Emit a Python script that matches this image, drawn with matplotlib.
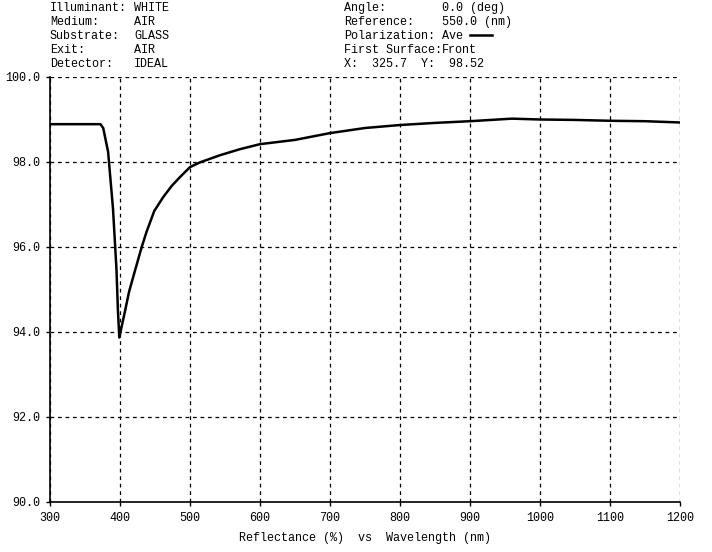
import matplotlib.pyplot as plt

wavelength = [300, 372, 376, 383, 390, 395, 397, 399, 407, 413, 421, 431, 438, 449,
              462, 474, 486, 500, 514, 543, 571, 600, 650, 700, 750, 800, 850, 900,
              960, 1000, 1050, 1100, 1150, 1200]
reflectance = [98.89, 98.89, 98.80, 98.24, 96.9, 95.46, 94.52, 93.87, 94.48, 94.95,
               95.42, 96.00, 96.36, 96.85, 97.18, 97.44, 97.65, 97.88, 97.99, 98.16,
               98.30, 98.42, 98.52, 98.68, 98.80, 98.87, 98.92, 98.96, 99.02, 99.00,
               98.99, 98.97, 98.96, 98.93]

x_ticks = list(range(300, 1201, 100))
y_ticks = [90, 92, 94, 96, 98, 100]

header_left = [("Illuminant:", "WHITE"), ("Medium:", "AIR"), ("Substrate:", "GLASS"),
               ("Exit:", "AIR"), ("Detector:", "IDEAL")]
header_right = [("Angle:", "0.0 (deg)"),
                ("Reference:", "550.0 (nm)"),
                ("Polarization:", "Ave"),
                ("First Surface:", "Front"),
                ("X:  325.7  Y:  98.52", "")]

W, H = 712, 552
mono = "Liberation Mono"

fig = plt.figure(figsize=(W / 100, H / 100), dpi=100)
ax = fig.add_axes([50 / W, 1 - 502 / H, 630 / W, 425 / H])

ax.plot(wavelength, reflectance, color="black", lw=1.8)
ax.set_xlim(300, 1200)
ax.set_ylim(90, 100)
ax.set_xticks(x_ticks)
ax.set_yticks(y_ticks)
ax.set_xticklabels([str(v) for v in x_ticks], family=mono, fontsize=8.5)
ax.set_yticklabels([f"{v:.1f}" for v in y_ticks], family=mono, fontsize=8.5)
ax.tick_params(direction="out", length=3, width=1, pad=4, colors="black")
ax.grid(True, color="black", linestyle=(0, (3, 3)), lw=0.9)
for s in ["top", "right"]:
    ax.spines[s].set_visible(False)
for s in ["left", "bottom"]:
    ax.spines[s].set_linewidth(1.2)

ax.set_xlabel("Reflectance (%)  vs  Wavelength (nm)", family=mono, fontsize=8.5,
              labelpad=6)

# header block
ys = [8, 22, 36, 50, 64]
for (lab, val), y in zip(header_left, ys):
    fig.text(50 / W, 1 - y / H, lab, family=mono, fontsize=8.5, va="center")
    fig.text(134 / W, 1 - y / H, val, family=mono, fontsize=8.5, va="center")
for (lab, val), y in zip(header_right, ys):
    fig.text(344 / W, 1 - y / H, lab, family=mono, fontsize=8.5, va="center")
    fig.text(442 / W, 1 - y / H, val, family=mono, fontsize=8.5, va="center")
fig.add_artist(plt.Line2D([470 / W, 492 / W], [1 - 35 / H, 1 - 35 / H],
                          color="black", lw=1.8))

fig.savefig("out.png", dpi=100)
